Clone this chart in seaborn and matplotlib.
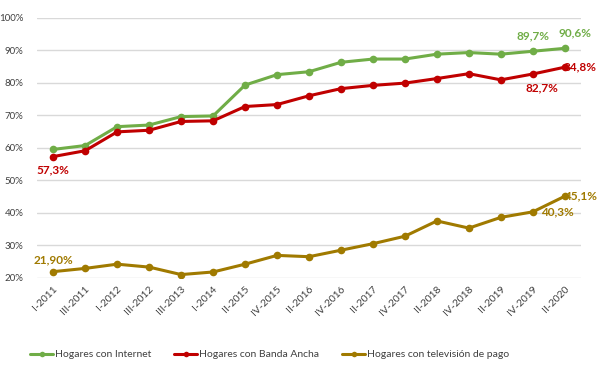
import matplotlib
matplotlib.use("Agg")
import matplotlib.pyplot as plt
import seaborn as sns
import pandas as pd

periods = ["I-2011", "III-2011", "I-2012", "III-2012", "III-2013", "I-2014", "II-2015",
           "IV-2015", "II-2016", "IV-2016", "II-2017", "IV-2017", "II-2018", "IV-2018",
           "II-2019", "IV-2019", "II-2020"]
internet = [59.5, 60.7, 66.5, 67.0, 69.6, 69.8, 79.3, 82.5, 83.4, 86.3, 87.3, 87.3,
            88.8, 89.3, 88.8, 89.7, 90.6]
banda_ancha = [57.3, 59.1, 64.9, 65.4, 68.1, 68.3, 72.7, 73.3, 76.0, 78.2, 79.2, 79.9,
               81.3, 82.8, 80.9, 82.7, 84.8]
tv_pago = [21.9, 22.9, 24.2, 23.3, 21.0, 21.8, 24.2, 26.9, 26.5, 28.5, 30.5, 32.8,
           37.5, 35.3, 38.6, 40.3, 45.1]
series_names = ["Hogares con Internet", "Hogares con Banda Ancha", "Hogares con televisión de pago"]
y_ticks = [20, 30, 40, 50, 60, 70, 80, 90, 100]

# data labels: (series index, point index, text)
labels = [
    (1, 0, "57,3%"),
    (2, 0, "21,90%"),
    (0, 15, "89,7%"),
    (0, 16, "90,6%"),
    (1, 16, "84,8%"),
    (1, 15, "82,7%"),
    (2, 16, "45,1%"),
    (2, 15, "40,3%"),
]

colors = ["#70AD47", "#C00000", "#A07A00"]

sns.set_theme(style="white")
plt.rcParams["font.family"] = ["Lato", "DejaVu Sans"]

values = [internet, banda_ancha, tv_pago]
df = pd.DataFrame({
    "periodo": periods * 3,
    "valor": internet + banda_ancha + tv_pago,
    "serie": [n for n in series_names for _ in periods],
})

fig = plt.figure(figsize=(6.0, 3.78), dpi=100)
ax = fig.add_axes([0.062, 0.265, 0.906, 0.688])

sns.lineplot(data=df, x="periodo", y="valor", hue="serie", palette=colors,
             marker="o", markersize=5.5, markeredgewidth=0, linewidth=2.2,
             sort=False, ax=ax, legend=True)

ax.set_xlim(-0.5, len(periods) - 0.5)
ax.set_ylim(20, 100)
ax.set_yticks(y_ticks)
ax.set_yticklabels([f"{t}%" for t in y_ticks])
ax.set_xticks(range(len(periods)))
ax.set_xticklabels(periods, rotation=45, ha="right", rotation_mode="anchor")
ax.tick_params(axis="both", colors="#404040", length=0)
ax.tick_params(axis="y", pad=10, labelsize=7)
ax.tick_params(axis="x", pad=5, labelsize=7.5)
ax.set_xlabel("")
ax.set_ylabel("")
ax.grid(axis="y", color="#D9D9D9", linewidth=1)
ax.set_axisbelow(True)
for s in ax.spines.values():
    s.set_visible(False)

offsets = {
    (1, 0): (0, -9.5),
    (2, 0): (0, 8.5),
    (0, 15): (0, 11.3),
    (0, 16): (7, 10.8),
    (1, 16): (10.8, 0),
    (1, 15): (6.3, -10),
    (2, 16): (11.5, 0),
    (2, 15): (18, 0),
}
for si, pi, txt in labels:
    dx, dy = offsets[(si, pi)]
    ax.annotate(txt, (pi, values[si][pi]), xytext=(dx, dy), textcoords="offset points",
                ha="center", va="center", fontsize=8.5, color=colors[si],
                fontweight="bold")

handles, lbls = ax.get_legend_handles_labels()
for h in handles:
    h.set_markersize(4)
ax.legend(handles, lbls, loc="center", bbox_to_anchor=(0.428, -0.296), ncol=3,
          frameon=False, fontsize=7.5, handlelength=2.2, columnspacing=2.2,
          handletextpad=0.2, labelcolor="#404040")

fig.savefig("out.png", dpi=100)
